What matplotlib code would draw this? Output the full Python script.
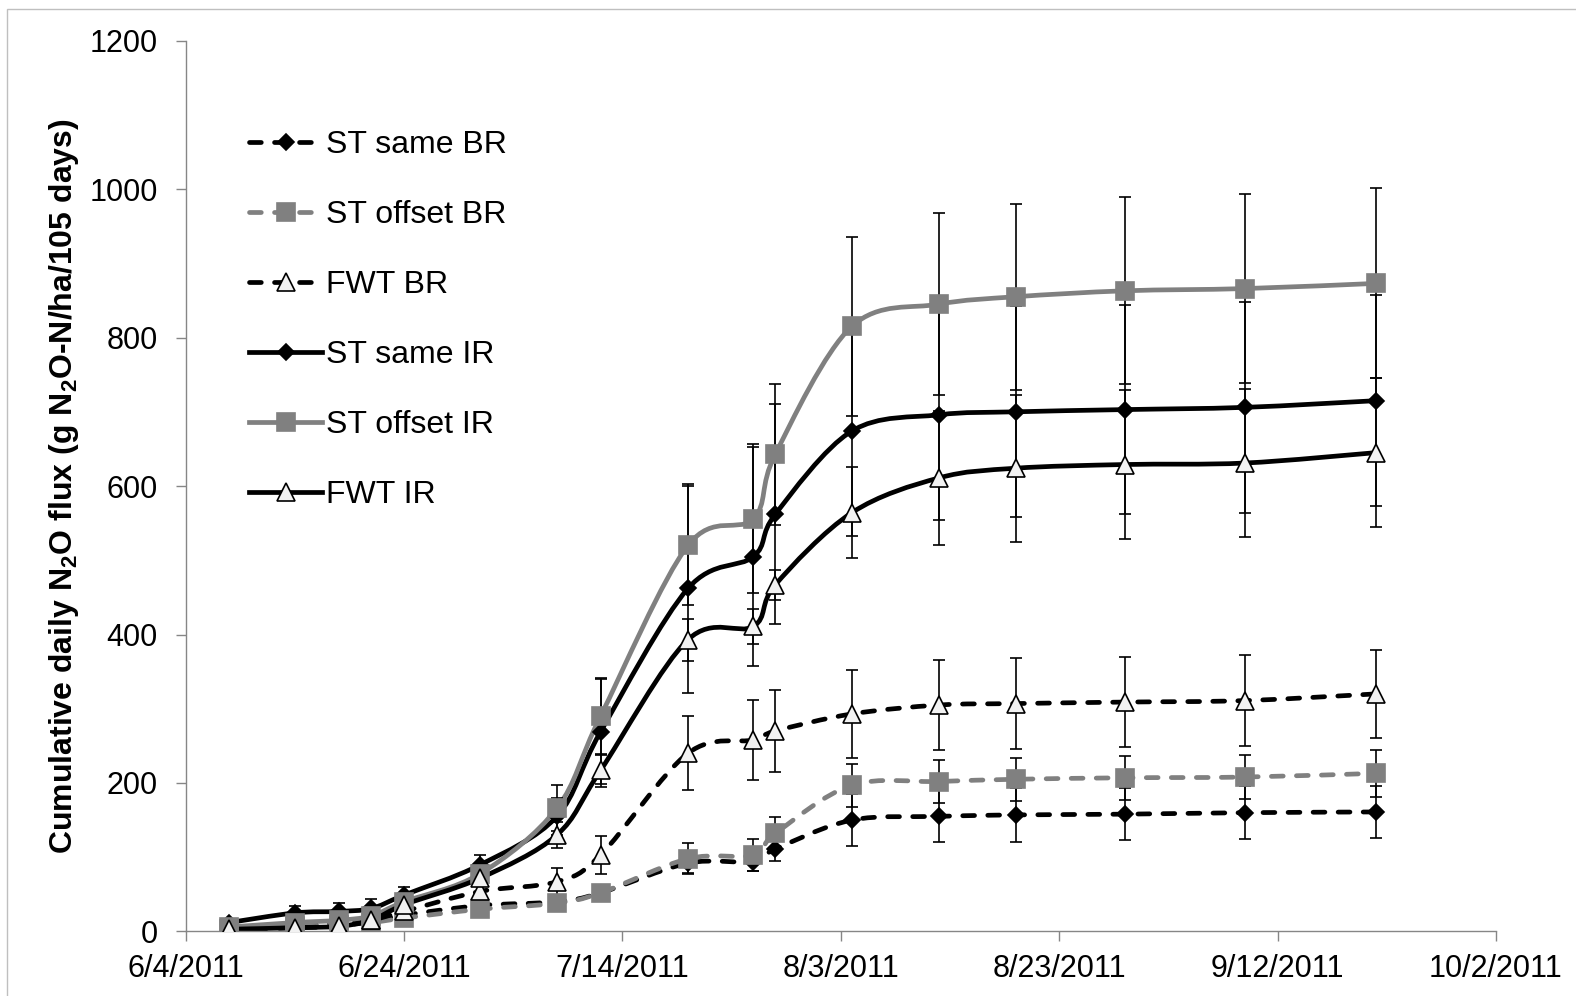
import matplotlib
matplotlib.use('Agg')
import matplotlib.pyplot as plt
import matplotlib.dates as mdates
from matplotlib.path import Path
from matplotlib.patches import PathPatch, Rectangle
from matplotlib.lines import Line2D
from datetime import datetime
import numpy as np

plt.rcParams['font.family'] = ['Liberation Sans', 'DejaVu Sans']
plt.rcParams['mathtext.fontset'] = 'custom'
plt.rcParams['mathtext.rm'] = 'Liberation Sans'
plt.rcParams['mathtext.bf'] = 'Liberation Sans:bold'

# sampling dates
dates = ['6/8/2011', '6/14/2011', '6/18/2011', '6/21/2011', '6/24/2011',
         '7/1/2011', '7/8/2011', '7/12/2011', '7/20/2011', '7/26/2011',
         '7/28/2011', '8/4/2011', '8/12/2011', '8/19/2011', '8/29/2011',
         '9/9/2011', '9/21/2011']

st_same_br = [3, 8, 10, 14, 22, 35, 40, 52, 92, 94, 111, 150, 155, 157, 158, 160, 161]
st_same_br_err = [2, 3, 3, 4, 5, 6, 6, 7, 13, 13, 16, 35, 35, 36, 35, 36, 35]

st_offset_br = [3, 7, 9, 12, 18, 30, 38, 52, 98, 103, 132, 197, 202, 205, 207, 208, 213]
st_offset_br_err = [2, 3, 3, 4, 5, 6, 6, 7, 21, 22, 22, 29, 29, 29, 30, 30, 32]

fwt_br = [2, 5, 7, 15, 27, 54, 67, 103, 240, 258, 270, 293, 305, 307, 309, 311, 320]
fwt_br_err = [2, 3, 3, 4, 6, 8, 18, 25, 50, 54, 55, 59, 61, 61, 61, 61, 59]

st_same_ir = [12, 25, 27, 31, 49, 90, 155, 269, 462, 505, 562, 674, 696, 700, 703, 706, 715]
st_same_ir_err = [4, 9, 11, 13, 11, 13, 25, 71, 141, 148, 148, 141, 142, 142, 141, 142, 142]

st_offset_ir = [6, 12, 15, 21, 40, 78, 166, 290, 520, 556, 643, 815, 845, 855, 863, 866, 873]
st_offset_ir_err = [3, 5, 6, 7, 8, 12, 31, 52, 80, 100, 95, 120, 123, 125, 126, 127, 128]

fwt_ir = [3, 5, 7, 15, 36, 72, 130, 217, 393, 411, 467, 564, 611, 624, 629, 631, 645]
fwt_ir_err = [2, 3, 4, 5, 7, 10, 17, 22, 28, 24, 20, 61, 90, 99, 101, 100, 100]

xtick_labels = ['6/4/2011', '6/24/2011', '7/14/2011', '8/3/2011',
                '8/23/2011', '9/12/2011', '10/2/2011']
yticks = [0, 200, 400, 600, 800, 1000, 1200]

GRAY = '#808080'
AXIS_GRAY = '#868686'
LW = 3.4
DASH = (0, (2.5, 2.8))


def to_num(ds):
    return mdates.date2num([datetime.strptime(d, '%m/%d/%Y') for d in ds])


def smooth_path(x, y):
    # excel style smoothed line (cubic bezier through the points)
    pts = np.column_stack([x, y])
    n = len(pts)
    verts = [pts[0]]
    codes = [Path.MOVETO]
    for i in range(n - 1):
        p0 = pts[max(i - 1, 0)]
        p1 = pts[i]
        p2 = pts[i + 1]
        p3 = pts[min(i + 2, n - 1)]
        verts += [p1 + (p2 - p0) / 6, p2 - (p3 - p1) / 6, p2]
        codes += [Path.CURVE4] * 3
    return Path(verts, codes)


series = [
    ('ST same BR', st_same_br, st_same_br_err, 'black', DASH, 'D', 8, 'black', 'black'),
    ('ST offset BR', st_offset_br, st_offset_br_err, GRAY, DASH, 's', 12.5, GRAY, GRAY),
    ('FWT BR', fwt_br, fwt_br_err, 'black', DASH, '^', 12.5, '#f2f2f2', 'black'),
    ('ST same IR', st_same_ir, st_same_ir_err, 'black', '-', 'D', 8, 'black', 'black'),
    ('ST offset IR', st_offset_ir, st_offset_ir_err, GRAY, '-', 's', 12.5, GRAY, GRAY),
    ('FWT IR', fwt_ir, fwt_ir_err, 'black', '-', '^', 12.5, '#f2f2f2', 'black'),
]

fig = plt.figure(figsize=(15.76, 9.96), dpi=100)
ax = fig.add_axes([0.1178, 0.0648, 0.8314, 0.8944])

x = to_num(dates)
handles = []
for label, vals, errs, color, ls, marker, ms, mfc, mec in series:
    patch = PathPatch(smooth_path(x, vals), fill=False, edgecolor=color,
                      linewidth=LW, linestyle=ls, capstyle='round', zorder=2)
    ax.add_patch(patch)
    ax.errorbar(x, vals, yerr=errs, fmt='none', ecolor='black',
                elinewidth=1.2, capsize=4.2, capthick=1.2, zorder=3)
    ax.plot(x, vals, linestyle='none', marker=marker, ms=ms, mfc=mfc,
            mec=mec, mew=1.2, zorder=4)
    handles.append(Line2D([], [], color=color, lw=LW, linestyle=ls,
                          dash_capstyle='round', marker=marker, ms=ms,
                          mfc=mfc, mec=mec, mew=1.2))

ax.set_xlim(to_num(['6/4/2011', '10/2/2011']))
ax.set_ylim(0, 1200)
ax.set_xticks(to_num(xtick_labels))
ax.set_xticklabels(xtick_labels)
ax.set_yticks(yticks)

for s in ['top', 'right']:
    ax.spines[s].set_visible(False)
for s in ['left', 'bottom']:
    ax.spines[s].set_color(AXIS_GRAY)
    ax.spines[s].set_linewidth(1)
ax.tick_params(axis='both', direction='out', length=7, width=1,
               color=AXIS_GRAY, labelsize=22)
ax.tick_params(axis='x', pad=9)
ax.tick_params(axis='y', pad=13)

fig.text(0.0405, 0.512,
         r'Cumulative daily N$_\mathbf{2}$O flux (g N$_\mathbf{2}$O-N/ha/105 days)',
         rotation=90, ha='center', va='center', fontsize=23, fontweight='bold')

ax.legend(handles, [s[0] for s in series], loc='upper left',
          bbox_to_anchor=(0.158, 0.869), bbox_transform=fig.transFigure,
          frameon=False, fontsize=23, handlelength=2.3, handletextpad=0.12,
          labelspacing=1.25, borderpad=0, borderaxespad=0, numpoints=1)

fig.patches.append(Rectangle((7 / 1576, -0.05), 1.1, 1.05 - 9 / 996,
                             transform=fig.transFigure, fill=False,
                             edgecolor='#bfbfbf', linewidth=1))

fig.savefig('out.png', dpi=100)
